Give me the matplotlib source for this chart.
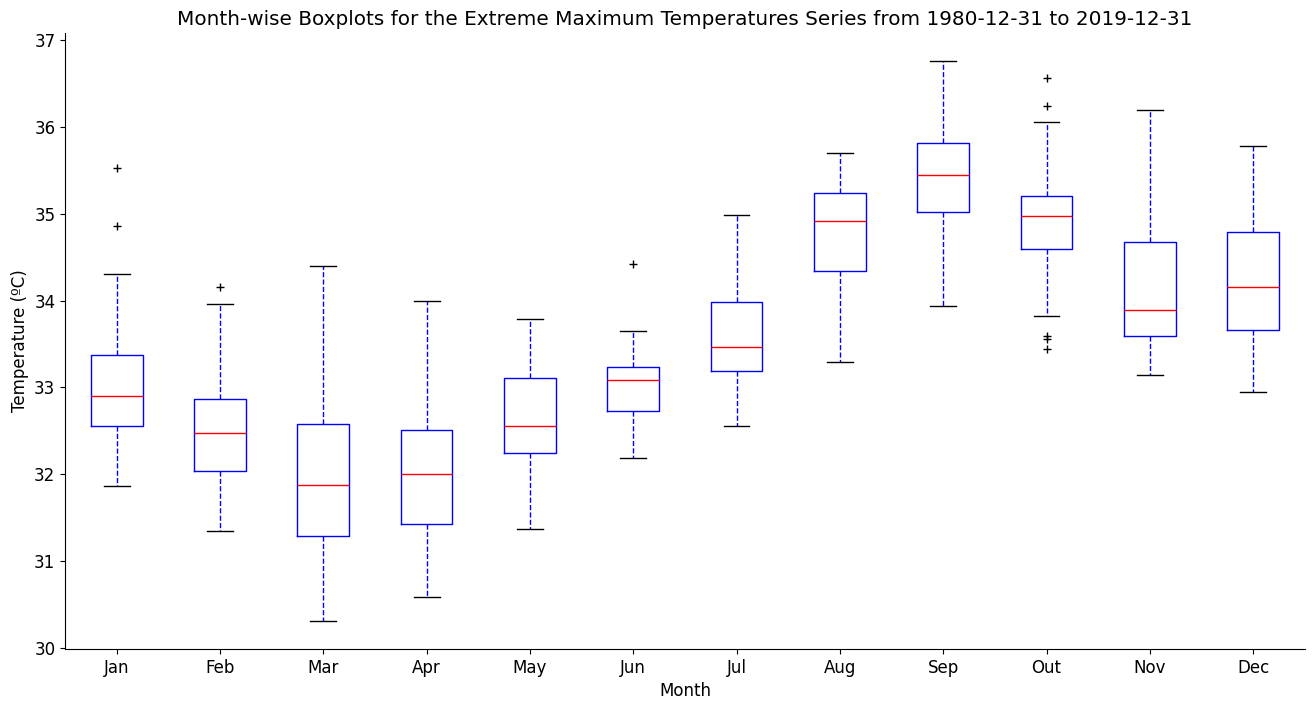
import matplotlib
matplotlib.use('Agg')
import matplotlib.pyplot as plt

# Month-wise box statistics (deg C)
months = ['Jan', 'Feb', 'Mar', 'Apr', 'May', 'Jun', 'Jul', 'Aug', 'Sep', 'Out', 'Nov', 'Dec']
whislo = [31.87, 31.35, 30.31, 30.59, 31.37, 32.19, 32.56, 33.29, 33.94, 33.82, 33.14, 32.95]
q1 = [32.56, 32.04, 31.29, 31.43, 32.24, 32.73, 33.19, 34.34, 35.02, 34.60, 33.59, 33.66]
med = [32.90, 32.48, 31.88, 32.00, 32.55, 33.08, 33.47, 34.92, 35.45, 34.98, 33.89, 34.16]
q3 = [33.37, 32.87, 32.58, 32.51, 33.11, 33.24, 33.98, 35.24, 35.81, 35.20, 34.67, 34.79]
whishi = [34.31, 33.96, 34.40, 33.99, 33.79, 33.65, 34.99, 35.70, 36.76, 36.06, 36.20, 35.78]
fliers = [[35.53, 34.86], [34.16], [], [], [], [34.42], [], [], [],
          [36.57, 36.24, 33.59, 33.56, 33.44], [], []]

stats = []
for i in range(len(months)):
    stats.append({'label': months[i], 'whislo': whislo[i], 'q1': q1[i], 'med': med[i],
                  'q3': q3[i], 'whishi': whishi[i], 'fliers': fliers[i]})

plt.rcParams['font.size'] = 12

fig = plt.figure(figsize=(13.14, 7.1), dpi=100)
ax = fig.add_axes([0.0495, 0.086, 0.9435, 0.8675])

ax.bxp(stats,
       boxprops=dict(color='blue'),
       medianprops=dict(color='red'),
       whiskerprops=dict(color='blue', linestyle='--'),
       capprops=dict(color='black'),
       flierprops=dict(marker='+', markeredgecolor='black'))

ax.spines['top'].set_visible(False)
ax.spines['right'].set_visible(False)
ax.set_xlabel('Month')
ax.set_ylabel('Temperature (ºC)')
ax.set_title('Month-wise Boxplots for the Extreme Maximum Temperatures Series from 1980-12-31 to 2019-12-31',
             fontsize=14.4)

fig.savefig('out.png', dpi=100)
